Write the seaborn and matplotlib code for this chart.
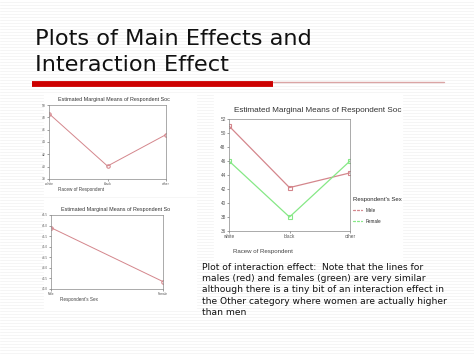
import matplotlib
matplotlib.use('Agg')
from matplotlib import pyplot as plt
import pandas as pd
import seaborn as sns

races = ['white', 'black', 'other']
race_means = [48.6, 40.1, 45.2]
sexes = ['Male', 'Female']
sex_means = [45.9, 43.35]
male_by_race = [51.0, 42.2, 44.3]
female_by_race = [46.0, 38.0, 46.0]

race_ticks = [38, 40, 42, 44, 46, 48, 50]
sex_ticks = [43.0, 43.5, 44.0, 44.5, 45.0, 45.5, 46.0, 46.5]
inter_ticks = [36, 38, 40, 42, 44, 46, 48, 50, 52]

title_lines = ['Plots of Main Effects and', 'Interaction Effect']
note_text = ('Plot of interaction effect:  Note that the lines for\n'
             'males (red) and females (green) are very similar\n'
             'although there is a tiny bit of an interaction effect in\n'
             'the Other category where women are actually higher\n'
             'than men')

RED = '#d4868c'
GREEN = '#86e886'
W, H = 474, 355
CHART_FONT = ['Liberation Sans', 'DejaVu Sans']

sns.set_theme(style='white')
plt.rcParams['font.family'] = ['DejaVu Sans']

fig = plt.figure(figsize=(W / 100, H / 100), dpi=100)
fig.patch.set_facecolor('white')


def box(x0, y0, x1, y1):
    # pixel box (top-left origin) -> figure fraction rect
    return [x0 / W, 1 - y1 / H, (x1 - x0) / W, (y1 - y0) / H]


# slide background with faint stripes
bg = fig.add_axes([0, 0, 1, 1])
bg.set_xlim(0, W)
bg.set_ylim(H, 0)
bg.axis('off')
for yy in range(2, H, 3):
    bg.plot([0, W], [yy, yy], color='#f4f4f4', lw=0.6)
# white panels behind the pasted charts
for (x0, y0, x1, y1) in [(44, 93, 196, 196), (44, 200, 196, 308), (214, 94, 402, 262)]:
    bg.add_patch(plt.Rectangle((x0, y0), x1 - x0, y1 - y0, color='white', zorder=2))
for txt, base in zip(title_lines, [45, 71]):
    bg.text(35, base, txt, fontsize=16.2, color='#111111', va='baseline', zorder=3)
bg.plot([32, 273], [84, 84], color='#cc0000', lw=4.2, solid_capstyle='butt', zorder=3)
bg.plot([273, 444], [81.5, 81.5], color='#dba5a5', lw=1.0, zorder=3)
bg.text(202, 263, note_text, fontsize=6.6, color='#111111', va='top',
        linespacing=1.32, zorder=3)


def style_axes(ax, labelsize):
    ax.set_xlabel('')
    ax.set_ylabel('')
    ax.tick_params(labelsize=labelsize, length=1.3, width=0.4, pad=1,
                   left=True, bottom=True, colors='#555555')
    for lab in ax.get_xticklabels() + ax.get_yticklabels():
        lab.set_family(CHART_FONT)
    for s in ax.spines.values():
        s.set_linewidth(0.5)
        s.set_color('#888888')


# main effect: race
race_df = pd.DataFrame({'race': races, 'mean': race_means})
ax1 = fig.add_axes(box(49, 105, 166, 179))
sns.lineplot(data=race_df, x='race', y='mean', ax=ax1, color=RED, lw=0.7,
             marker='o', markersize=2.5, markerfacecolor='none', markeredgecolor=RED)
ax1.set_xlim(0, 2)
ax1.set_ylim(38, 50)
ax1.set_yticks(race_ticks)
style_axes(ax1, 2.4)
ax1.set_title('Estimated Marginal Means of Respondent Soc', fontsize=3.9, pad=3,
              loc='left', x=0.075, family=CHART_FONT, color='#333333')
fig.text(58 / W, 1 - 191 / H, 'Racew of Respondent', fontsize=3.3, color='#444444',
         family=CHART_FONT)

# main effect: sex
sex_df = pd.DataFrame({'sex': sexes, 'mean': sex_means})
ax2 = fig.add_axes(box(51, 215, 163, 289))
sns.lineplot(data=sex_df, x='sex', y='mean', ax=ax2, color=RED, lw=0.7,
             marker='o', markersize=2.5, markerfacecolor='none', markeredgecolor=RED)
ax2.set_xlim(0, 1)
ax2.set_ylim(43.0, 46.5)
ax2.set_yticks(sex_ticks)
style_axes(ax2, 2.2)
ax2.set_title('Estimated Marginal Means of Respondent So', fontsize=3.9, pad=3,
              loc='left', x=0.09, family=CHART_FONT, color='#333333')
fig.text(60 / W, 1 - 301 / H, "Respondent's Sex", fontsize=3.3, color='#444444',
         family=CHART_FONT)

# interaction plot
inter_df = pd.DataFrame({
    'race': races * 2,
    'mean': male_by_race + female_by_race,
    'sex': ['Male'] * len(races) + ['Female'] * len(races),
})
ax3 = fig.add_axes(box(229, 119, 350, 231))
sns.lineplot(data=inter_df, x='race', y='mean', hue='sex', ax=ax3,
             palette={'Male': RED, 'Female': GREEN}, lw=0.9, marker='s',
             markersize=3.5, markerfacecolor='none', markeredgewidth=0.8)
for line, c in zip(ax3.lines, [RED, GREEN]):
    line.set_markeredgecolor(c)
ax3.set_xlim(0, 2)
ax3.set_ylim(36, 52)
ax3.set_yticks(inter_ticks)
style_axes(ax3, 3.4)
ax3.set_title('Estimated Marginal Means of Respondent Soc', fontsize=5.9, pad=5,
              loc='left', x=0.04, color='#333333', family=CHART_FONT)
leg = ax3.legend(title="Respondent's Sex", loc='upper left', bbox_to_anchor=(1.01, 0.32),
                 fontsize=3.3, title_fontsize=4.3, frameon=False, handlelength=2.0,
                 borderaxespad=0, labelspacing=1.3, prop={'family': CHART_FONT, 'size': 3.3})
leg.get_title().set_family(CHART_FONT)
leg._legend_box.align = 'left'
fig.text(233 / W, 1 - 253 / H, 'Racew of Respondent', fontsize=4.4, color='#444444',
         family=CHART_FONT)

fig.savefig('out.png', dpi=100)
